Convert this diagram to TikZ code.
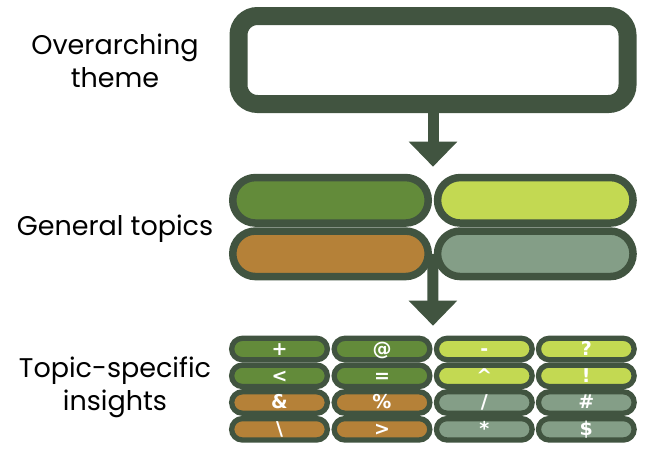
\documentclass[tikz,border=0pt]{standalone}
\usepackage{fontspec}
\setmainfont{Poppins}
\newfontfamily\symfont{DejaVu Sans}
\usetikzlibrary{shapes.misc,arrows.meta,backgrounds,calc}
\definecolor{bord}{HTML}{415440}
\definecolor{cgreen}{HTML}{638B3A}
\definecolor{clime}{HTML}{C3D952}
\definecolor{corange}{HTML}{B58138}
\definecolor{cgrey}{HTML}{849E87}
\tikzset{
  lbl/.style={align=center,font=\fontsize{27}{33}\selectfont,text=black},
  bigpill/.style={rounded rectangle,draw=bord,line width=7.5pt,minimum width=195.5pt,minimum height=45.5pt,inner sep=0pt},
  smallpill/.style={rounded rectangle,draw=bord,line width=5.3pt,minimum width=95.7pt,minimum height=21.4pt,inner sep=0pt,text=white,font=\symfont\fontsize{19}{19}\selectfont\bfseries,text height=13.5pt,text depth=1pt},
  flow/.style={draw=bord,line width=11pt,-{Triangle[width=47pt,length=25pt]}}
}
\begin{document}
\begin{tikzpicture}[x=1pt,y=-1pt]
\useasboundingbox (0,0) rectangle (645,451);
% labels
\node[lbl] (l1) at (115,61) {Overarching\\theme};
\node[lbl] (l2) at (115,229) {General topics};
\node[lbl] (l3) at (115,387) {Topic-specific\\insights};
% top box
\node[draw=bord,line width=18pt,rounded corners=19pt,minimum width=389pt,minimum height=88pt,inner sep=0pt,fill=white] (top) at (433,60) {};
% general topics
\node[bigpill,fill=cgreen] (g1) at (330.5,200.3) {};
\node[bigpill,fill=clime] (g2) at (535.3,200.3) {};
\node[bigpill,fill=corange] (g3) at (330.5,253.8) {};
\node[bigpill,fill=cgrey] (g4) at (535.3,253.8) {};
\coordinate (t1) at (433,166.7);
\coordinate (t2) at (433,325.7);
\draw[flow] (top.south) -- (t1);
\begin{scope}[on background layer]
\draw[flow] ($(g3.east)!0.5!(g4.west)$) -- (t2);
\end{scope}
% topic-specific
\node[smallpill,fill=cgreen] (s11) at (279.5,349) {+};
\node[smallpill,fill=cgreen] (s12) at (382,349) {@};
\node[smallpill,fill=clime] (s13) at (484.3,349) {-};
\node[smallpill,fill=clime] (s14) at (586.3,349) {?};
\node[smallpill,fill=cgreen] (s21) at (279.5,375.8) {<};
\node[smallpill,fill=cgreen] (s22) at (382,375.8) {=};
\node[smallpill,fill=clime] (s23) at (484.3,375.8) {\textasciicircum};
\node[smallpill,fill=clime] (s24) at (586.3,375.8) {!};
\node[smallpill,fill=corange] (s31) at (279.5,402.5) {\&};
\node[smallpill,fill=corange] (s32) at (382,402.5) {\%};
\node[smallpill,fill=cgrey] (s33) at (484.3,402.5) {/};
\node[smallpill,fill=cgrey] (s34) at (586.3,402.5) {\#};
\node[smallpill,fill=corange] (s41) at (279.5,429.3) {\textbackslash};
\node[smallpill,fill=corange] (s42) at (382,429.3) {>};
\node[smallpill,fill=cgrey] (s43) at (484.3,429.3) {*};
\node[smallpill,fill=cgrey] (s44) at (586.3,429.3) {\$};
\end{tikzpicture}
\end{document}
